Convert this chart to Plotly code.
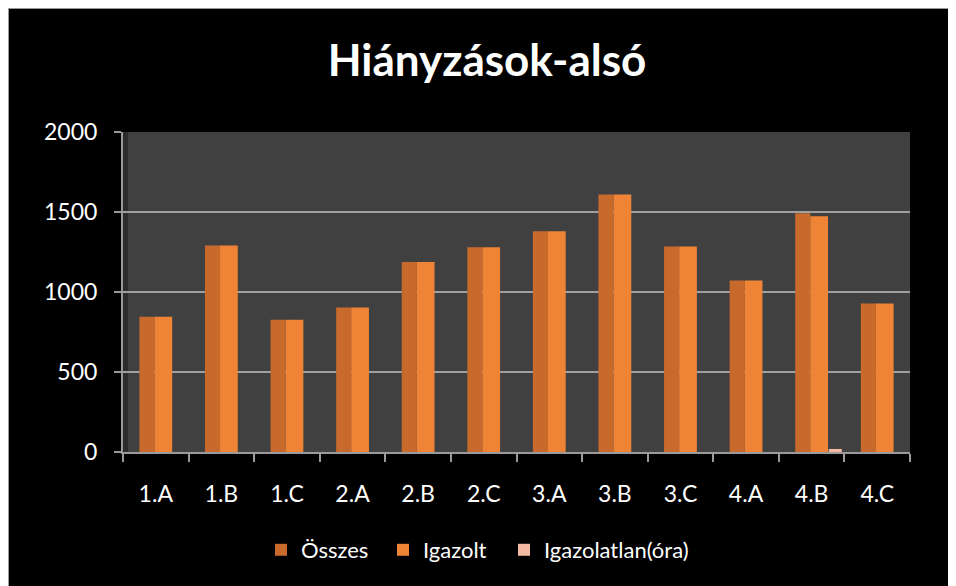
import plotly.graph_objects as go

categories = ["1.A", "1.B", "1.C", "2.A", "2.B", "2.C", "3.A", "3.B", "3.C", "4.A", "4.B", "4.C"]
osszes = [846, 1291, 827, 903, 1188, 1280, 1380, 1610, 1285, 1072, 1492, 928]
igazolt = [846, 1291, 827, 903, 1188, 1280, 1380, 1610, 1285, 1072, 1473, 928]
igazolatlan = [0, 0, 0, 0, 0, 0, 0, 0, 0, 0, 19, 0]
y_ticks = [0, 500, 1000, 1500, 2000]

# the page body adds an 8px white margin at the top/left of the figure
W, H = 956, 578
L, R, T, B = 115, 54, 124, 134
pw, ph = W - L - R, H - T - B

def px(x):
    return (x - L) / pw

def py(y):
    return (H - B - y) / ph

FONT = "Lato"

fig = go.Figure()
fig.add_trace(go.Bar(name="Összes", x=categories, y=osszes, marker_color="#C86A2C",
                     marker_line_width=0, offset=-0.25, width=0.23, legend="legend"))
fig.add_trace(go.Bar(name="Igazolt", x=categories, y=igazolt, marker_color="#EF8436",
                     marker_line_width=0, offset=-0.02, width=0.27, legend="legend"))
fig.add_trace(go.Bar(name="Igazolatlan(óra)", x=categories, y=igazolatlan, marker_color="#F2B8A2",
                     marker_line_width=0, offset=0.26, width=0.2, legend="legend2"))

shapes = [
    # thin grey edge of the chart area
    dict(type="line", xref="paper", yref="paper", x0=px(0), x1=px(W), y0=py(0.5), y1=py(0.5),
         line=dict(color="#9a9a9a", width=1), layer="above"),
    dict(type="line", xref="paper", yref="paper", x0=px(0.5), x1=px(0.5), y0=py(0), y1=py(H),
         line=dict(color="#9a9a9a", width=1), layer="above"),
    # darker left side wall strip for the 3D look
    dict(type="rect", xref="paper", yref="paper", x0=0, x1=px(L + 5), y0=0, y1=1,
         fillcolor="#2c2c2c", line_width=0, layer="below"),
]

legend_common = dict(orientation="h", yanchor="middle", xanchor="left",
                     font=dict(family=FONT, size=22, color="white"),
                     bgcolor="rgba(0,0,0,0)", itemwidth=30)

fig.update_layout(
    width=W, height=H,
    margin=dict(l=L, r=R, t=T, b=B, autoexpand=False),
    paper_bgcolor="black",
    plot_bgcolor="#404040",
    title=dict(text="<b>Hiányzások-alsó</b>", x=px(479), xref="paper", xanchor="center",
               y=1 - 53 / H, yanchor="middle",
               font=dict(family=FONT, size=44, color="white")),
    font=dict(family=FONT, color="white"),
    barmode="overlay",
    showlegend=True,
    legend=dict(legend_common, x=px(275 - 8 - 14), y=py(542), traceorder="normal",
                entrywidth=77, entrywidthmode="pixels"),
    legend2=dict(legend_common, x=px(518 - 8 - 14), y=py(542)),
    shapes=shapes,
    xaxis=dict(
        type="category", range=[-0.5, 11.5], automargin=False,
        showline=True, linecolor="#9a9a9a", linewidth=2,
        ticks="outside", ticklen=8, tickcolor="#9a9a9a", tickwidth=1.5,
        tickson="boundaries", showgrid=False,
        tickfont=dict(family=FONT, size=23, color="white"),
        ticklabelstandoff=20,
    ),
    yaxis=dict(
        range=[0, 2000], tickvals=y_ticks, ticktext=[str(v) for v in y_ticks],
        automargin=False,
        showline=True, linecolor="#9a9a9a", linewidth=2,
        ticks="outside", ticklen=7, tickcolor="#9a9a9a", tickwidth=1.5,
        showgrid=True, gridcolor="#a0a0a0", gridwidth=2,
        zeroline=False,
        tickfont=dict(family=FONT, size=23, color="white"),
        ticklabelstandoff=12,
    ),
)

fig.write_html("out.html", post_script="document.body.style.overflow='hidden';")
